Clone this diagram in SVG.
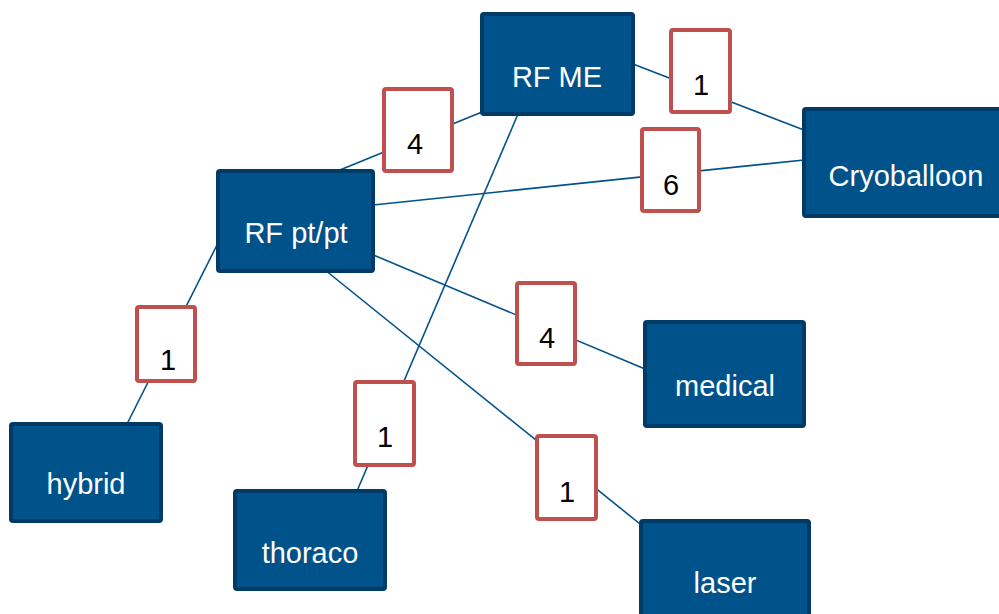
<svg xmlns="http://www.w3.org/2000/svg" width="999" height="614" viewBox="0 0 999 614">
<style>
.node rect{fill:#00528a;stroke:#003a66;stroke-width:4}
.node text{fill:#ffffff;font-family:"Liberation Sans",Arial,sans-serif;font-size:29px;text-anchor:middle}
.lbl rect{fill:#ffffff;stroke:#c0504d;stroke-width:4}
.lbl text{fill:#000000;font-family:"Liberation Sans",Arial,sans-serif;font-size:29px;text-anchor:middle}
.edges line{stroke:#00528a;stroke-width:1.6}
</style>
<rect width="999" height="614" fill="#ffffff"/>
<g class="edges" id="connectors">
<line x1="633" y1="64" x2="804" y2="130"/>
<line x1="482" y1="112" x2="335" y2="172"/>
<line x1="373" y1="205" x2="804" y2="160"/>
<line x1="518" y1="114" x2="357" y2="491"/>
<line x1="218" y1="243" x2="127" y2="424"/>
<line x1="371" y1="254" x2="645" y2="369"/>
<line x1="325" y1="270" x2="645" y2="528"/>
</g>
<g class="node" id="rfme"><rect x="482" y="14" width="151" height="100" rx="2"/><text x="557" y="87">RF ME</text></g>
<g class="node" id="rfptpt"><rect x="218" y="171" width="155" height="100" rx="2"/><text x="296" y="243">RF pt/pt</text></g>
<g class="node" id="cryo"><rect x="804" y="109" width="200" height="107" rx="2"/><text x="906" y="186">Cryoballoon</text></g>
<g class="node" id="hybrid"><rect x="11" y="424" width="150" height="97" rx="2"/><text x="86" y="494">hybrid</text></g>
<g class="node" id="medical"><rect x="645" y="322" width="159" height="104" rx="2"/><text x="725" y="396">medical</text></g>
<g class="node" id="thoraco"><rect x="235" y="491" width="150" height="98" rx="2"/><text x="310" y="563">thoraco</text></g>
<g class="node" id="laser"><rect x="641" y="521" width="168" height="100" rx="2"/><text x="725" y="593">laser</text></g>
<g class="lbl" id="l1"><rect x="671" y="30" width="59" height="82" rx="2"/><text x="701" y="95">1</text></g>
<g class="lbl" id="l2"><rect x="384" y="89" width="68" height="82" rx="2"/><text x="415" y="154">4</text></g>
<g class="lbl" id="l3"><rect x="642" y="129" width="57" height="82" rx="2"/><text x="671" y="195">6</text></g>
<g class="lbl" id="l4"><rect x="137" y="307" width="58" height="74" rx="2"/><text x="168" y="370">1</text></g>
<g class="lbl" id="l5"><rect x="517" y="283" width="58" height="81" rx="2"/><text x="547" y="348">4</text></g>
<g class="lbl" id="l6"><rect x="355" y="382" width="59" height="83" rx="2"/><text x="385" y="447">1</text></g>
<g class="lbl" id="l7"><rect x="537" y="436" width="59" height="83" rx="2"/><text x="567" y="502">1</text></g>
</svg>
